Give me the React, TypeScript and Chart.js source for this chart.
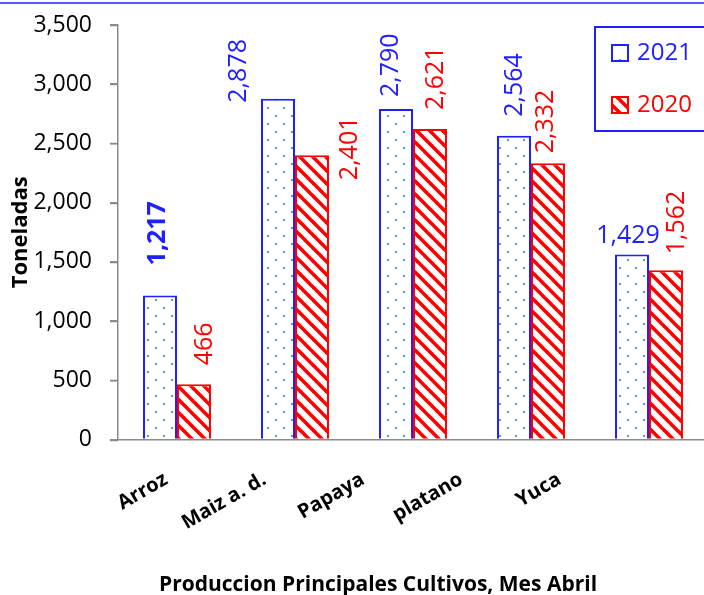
import React, { useEffect, useRef } from "react";
import { Chart, registerables } from "chart.js";

Chart.register(...registerables);

// ---- data ----
const categories = ["Arroz", "Maiz a. d.", "Papaya", "platano", "Yuca"];
const axisLabels = ["Arroz", "Maiz a. d.", "Papaya", "platano", "Yuca", ""];
const seriesNames = ["2021", "2020"];
const values2021 = [1217, 2878, 2790, 2564, 1562];
const values2020 = [466, 2401, 2621, 2332, 1429];
const labels2021 = ["1,217", "2,878", "2,790", "2,564", "1,429"];
const labels2020 = ["466", "2,401", "2,621", "2,332", "1,562"];
const yMin = 0;
const yMax = 3500;
const yStep = 500;
const yTitle = "Toneladas";
const chartTitle = "Produccion Principales Cultivos, Mes Abril";

// ---- styles ----
const BLUE = "#2020FF";
const RED = "#FF0000";
const DOT = "#5B9BD5";
const AXIS = "#8A8A8A";
const FONT = '"Open Sans", "DejaVu Sans", sans-serif';

// label placement relative to each bar (dx: horizontal shift, gap: distance above bar top)
const labelPlace2021 = [
  { dx: -2, gap: 30, rotate: true, bold: true },
  { dx: -39, gap: -4, rotate: true, bold: false },
  { dx: -5, gap: 12, rotate: true, bold: false },
  { dx: 1, gap: 19, rotate: true, bold: false },
  { dx: -4, gap: 19, rotate: false, bold: false },
];
const labelPlace2020 = [
  { dx: 11, gap: 19, rotate: true, bold: false },
  { dx: 38, gap: -25, rotate: true, bold: false },
  { dx: 6, gap: 19, rotate: true, bold: false },
  { dx: -2, gap: 10, rotate: true, bold: false },
  { dx: 11, gap: 16, rotate: true, bold: false },
];

function makeDotPattern(ctx: CanvasRenderingContext2D) {
  const c = document.createElement("canvas");
  c.width = 16;
  c.height = 16;
  const g = c.getContext("2d")!;
  g.fillStyle = "#FFFFFF";
  g.fillRect(0, 0, 16, 16);
  g.fillStyle = DOT;
  g.fillRect(3, 3, 2, 2);
  g.fillRect(11, 11, 2, 2);
  return ctx.createPattern(c, "repeat")!;
}

function makeStripePattern(ctx: CanvasRenderingContext2D) {
  const p = 13;
  const c = document.createElement("canvas");
  c.width = p;
  c.height = p;
  const g = c.getContext("2d")!;
  g.fillStyle = "#FFFFFF";
  g.fillRect(0, 0, p, p);
  g.strokeStyle = RED;
  g.lineWidth = 3.6;
  for (let k = -1; k <= 1; k++) {
    g.beginPath();
    g.moveTo(k * p - p, -p);
    g.lineTo(k * p + 2 * p, 2 * p);
    g.stroke();
  }
  return ctx.createPattern(c, "repeat")!;
}

const topLinePlugin = {
  id: "topLine",
  beforeDraw(chart: any) {
    const { ctx } = chart;
    ctx.save();
    ctx.strokeStyle = BLUE;
    ctx.lineWidth = 1.5;
    ctx.beginPath();
    ctx.moveTo(0, 3);
    ctx.lineTo(chart.width, 3);
    ctx.stroke();
    ctx.restore();
  },
};

// outward tick marks on the value axis
const yTickMarksPlugin = {
  id: "yTickMarks",
  afterDraw(chart: any, _args: any, opts: any) {
    const { ctx } = chart;
    const scale = chart.scales.y;
    const x0 = chart.chartArea.left;
    ctx.save();
    ctx.strokeStyle = opts.color;
    ctx.lineWidth = opts.width;
    scale.ticks.forEach((t: any) => {
      const y = Math.round(scale.getPixelForValue(t.value)) + 0.5;
      ctx.beginPath();
      ctx.moveTo(x0 - opts.length, y);
      ctx.lineTo(x0, y);
      ctx.stroke();
    });
    ctx.restore();
  },
};

const barLabelPlugin = {
  id: "barLabels",
  afterDatasetsDraw(chart: any, _args: any, opts: any) {
    const { ctx } = chart;
    chart.data.datasets.forEach((_ds: any, di: number) => {
      const meta = chart.getDatasetMeta(di);
      const texts = opts.texts[di];
      const places = opts.places[di];
      meta.data.forEach((el: any, i: number) => {
        const { x, y } = el.getProps(["x", "y"], true);
        const s = places[i];
        ctx.save();
        ctx.fillStyle = opts.colors[di];
        ctx.font = `${s.bold ? "bold " : ""}${opts.size}px ${FONT}`;
        ctx.textBaseline = "middle";
        if (s.rotate) {
          ctx.translate(x + s.dx, y - s.gap);
          ctx.rotate(-Math.PI / 2);
          ctx.textAlign = "left";
          ctx.fillText(texts[i], 0, 0);
        } else {
          ctx.textAlign = "center";
          ctx.fillText(texts[i], x + s.dx, y - s.gap);
        }
        ctx.restore();
      });
    });
  },
};

const boxLegendPlugin = {
  id: "boxLegend",
  afterDraw(chart: any, _args: any, opts: any) {
    const { ctx, chartArea } = chart;
    const left = chartArea.right - opts.fromRight;
    const top = chartArea.top + opts.fromTop;
    ctx.save();
    ctx.strokeStyle = opts.borderColor;
    ctx.lineWidth = 2;
    ctx.strokeRect(left, top, opts.width, opts.height);
    chart.data.datasets.forEach((ds: any, i: number) => {
      const cy = top + opts.firstRow + i * opts.rowGap;
      ctx.fillStyle = ds.backgroundColor;
      ctx.fillRect(left + 17, cy - 8, 16, 16);
      ctx.strokeStyle = ds.borderColor;
      ctx.lineWidth = 2;
      ctx.strokeRect(left + 17, cy - 8, 16, 16);
      ctx.fillStyle = ds.borderColor;
      ctx.font = `${opts.size}px ${FONT}`;
      ctx.textAlign = "left";
      ctx.textBaseline = "middle";
      ctx.fillText(ds.label, left + 42, cy);
    });
    ctx.restore();
  },
};

const bottomTitlePlugin = {
  id: "bottomTitle",
  afterDraw(chart: any, _args: any, opts: any) {
    const { ctx, chartArea } = chart;
    ctx.save();
    ctx.fillStyle = "#000";
    ctx.font = `bold ${opts.size}px ${FONT}`;
    ctx.textAlign = "center";
    ctx.textBaseline = "alphabetic";
    ctx.fillText(opts.text, (chartArea.left + chartArea.right) / 2 + opts.shift, chart.height - opts.bottom);
    ctx.restore();
  },
};

export default function App() {
  const ref = useRef<HTMLCanvasElement | null>(null);

  useEffect(() => {
    const canvas = ref.current!;
    const ctx = canvas.getContext("2d")!;
    const dots = makeDotPattern(ctx);
    const stripes = makeStripePattern(ctx);

    const chart = new Chart(canvas, {
      type: "bar",
      data: {
        labels: categories,
        datasets: [
          {
            label: seriesNames[0],
            data: values2021,
            backgroundColor: dots as any,
            borderColor: BLUE,
            borderWidth: 2,
            categoryPercentage: 0.576,
            barPercentage: 1,
          },
          {
            label: seriesNames[1],
            data: values2020,
            backgroundColor: stripes as any,
            borderColor: RED,
            borderWidth: 2,
            categoryPercentage: 0.576,
            barPercentage: 1,
          },
        ],
      },
      options: {
        responsive: false,
        animation: false,
        layout: { padding: { top: 25, left: 0, right: 12, bottom: 48 } },
        plugins: {
          legend: { display: false },
          title: { display: false },
          tooltip: { enabled: false },
          yTickMarks: { length: 8, color: AXIS, width: 1.5 },
          barLabels: {
            texts: [labels2021, labels2020],
            places: [labelPlace2021, labelPlace2020],
            colors: [BLUE, RED],
            size: 25,
          },
          boxLegend: {
            fromRight: 113,
            fromTop: 2,
            width: 140,
            height: 104,
            firstRow: 26,
            rowGap: 52,
            size: 24,
            borderColor: BLUE,
          },
          bottomTitle: { text: chartTitle, size: 21, shift: -35, bottom: 4 },
        } as any,
        scales: {
          x: {
            type: "category",
            position: "bottom",
            offset: true,
            grid: { display: false },
            border: { display: true, color: AXIS, width: 1.5 },
            ticks: { display: false },
          },
          x2: {
            type: "category",
            position: "bottom",
            labels: axisLabels,
            offset: true,
            grid: { display: false },
            border: { display: false },
            ticks: {
              autoSkip: false,
              minRotation: 30,
              maxRotation: 30,
              padding: 12,
              labelOffset: -1,
              color: "#000",
              font: { family: FONT, size: 20, weight: "bold" },
            },
          },
          y: {
            min: yMin,
            max: yMax,
            afterFit: (scale: any) => {
              scale.width = 118;
              scale.paddingTop = 0;
              scale.paddingBottom = 0;
            },
            ticks: {
              stepSize: yStep,
              padding: 18,
              color: "#000",
              font: { family: FONT, size: 23 },
              callback: (v: any) => Number(v).toLocaleString("en-US"),
            },
            grid: {
              display: true,
              drawOnChartArea: false,
              drawTicks: true,
              tickLength: 8,
              color: AXIS,
              lineWidth: 1.5,
            },
            border: { display: true, color: AXIS, width: 1.5 },
            title: {
              display: true,
              text: yTitle,
              color: "#000",
              font: { family: FONT, size: 22, weight: "bold" },
              padding: { top: 8, bottom: 2 },
            },
          },
        },
      },
      plugins: [topLinePlugin, yTickMarksPlugin, barLabelPlugin, boxLegendPlugin, bottomTitlePlugin],
    });

    return () => chart.destroy();
  }, []);

  return (
    <div
      style={{
        position: "fixed",
        left: 0,
        top: 0,
        width: 704,
        height: 595,
        overflow: "hidden",
        background: "#FFFFFF",
      }}
    >
      <canvas ref={ref} width={720} height={595} style={{ display: "block", width: 720, height: 595 }} />
    </div>
  );
}
